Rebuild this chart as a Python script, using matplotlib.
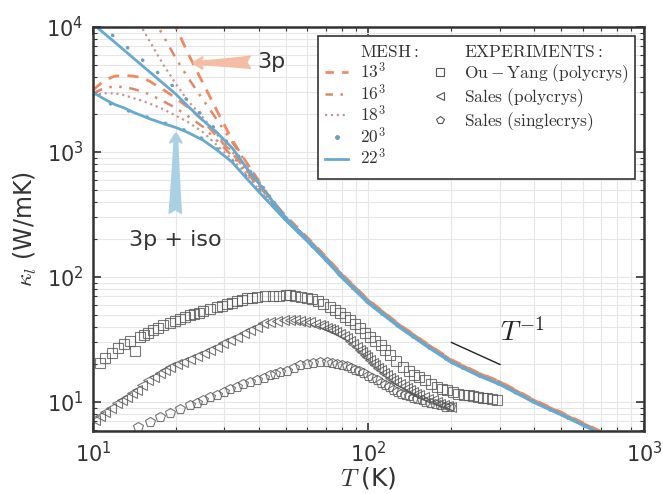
import numpy as np
import matplotlib
matplotlib.use('Agg')
import matplotlib.pyplot as plt
from matplotlib.lines import Line2D

plt.rcParams['mathtext.fontset'] = 'cm'
plt.rcParams['font.family'] = ['DejaVu Sans']

# ---- calculated kappa_l (W/mK) for each q-mesh, 3p and 3p+iso ----
T_tail = [60, 70, 80, 100, 130, 160, 200, 250, 300, 400, 500, 700]

T13_3p = [19.5, 20, 22, 25, 28, 32, 36, 40, 45, 50] + T_tail
k13_3p = [11500, 10000, 6300, 3600, 2200, 1250, 830, 580, 400, 310,
          207, 146, 106, 65.5, 41.5, 30.2, 21.8, 17.2, 14.6, 10.4, 8.3, 5.8]
T13_iso = [10, 11, 12, 13, 14, 15, 16, 18, 20, 22, 25, 28, 32, 36, 40, 45, 50] + T_tail
k13_iso = [3130, 3750, 4050, 4100, 4050, 3950, 3700, 3150, 2700, 2300, 1800, 1350,
           980, 720, 540, 390, 295,
           204, 144, 105, 65, 41.2, 30, 21.6, 17.1, 14.5, 10.3, 8.2, 5.75]

T16_3p = [16.3, 17, 18, 20, 22, 25, 28, 32, 36, 40, 45, 50] + T_tail
k16_3p = [12500, 10500, 8500, 5600, 4000, 2650, 1850, 1200, 820, 590, 410, 300,
          203, 143, 104, 64.2, 40.8, 29.6, 21.3, 16.8, 14.3, 10.2, 8.1, 5.7]
T16_iso = [10, 11, 12, 13, 14, 15, 16, 18, 20, 22, 25, 28, 32, 36, 40, 45, 50] + T_tail
k16_iso = [2950, 3250, 3350, 3300, 3200, 3050, 2900, 2550, 2250, 1950, 1600, 1250,
           930, 700, 520, 385, 290,
           198, 140, 102, 63.5, 40.5, 29.4, 21.2, 16.7, 14.2, 10.1, 8.05, 5.65]

T18_3p = [14.3, 15, 16, 17, 18, 20, 22, 25, 28, 32, 36, 40, 45, 50] + T_tail
k18_3p = [11500, 10000, 7800, 6200, 5000, 3500, 2600, 1900, 1400, 1000, 740, 560, 400, 300,
          201, 141, 103, 63.5, 40.4, 29.3, 21.1, 16.6, 14.1, 10.05, 8.0, 5.62]
T18_iso = [10, 11, 12, 13, 14, 15, 16, 18, 20, 22, 25, 28, 32, 36, 40, 45, 50] + T_tail
k18_iso = [2850, 2950, 2950, 2850, 2700, 2580, 2450, 2200, 1950, 1750, 1450, 1150,
           870, 670, 500, 375, 285,
           196, 138, 101, 62.5, 40, 29, 21, 16.5, 14, 10, 8.0, 5.6]

T20_3p = [10.3, 11, 12, 13, 14, 16, 18, 20, 22, 25, 28, 32, 36, 40, 45, 50] + T_tail
k20_3p = [10500, 9700, 8300, 7200, 6200, 4950, 3950, 3200, 2600, 1950, 1500, 1080, 770, 570, 405, 300,
          200, 140, 102, 63, 40, 29, 21, 16.5, 14, 10, 8.0, 5.6]
T20_iso = [10, 11, 12, 13, 14, 16, 18, 20, 22, 25, 28, 32, 36, 40, 45, 50] + T_tail
k20_iso = [2850, 2550, 2350, 2200, 2060, 1880, 1720, 1590, 1470, 1280, 1080, 850, 640, 495, 370, 288,
           193, 136, 99, 61.5, 39.3, 28.6, 20.7, 16.3, 13.8, 9.9, 7.9, 5.55]

T22_3p = [10, 12, 14, 16, 18, 20, 22, 25, 28, 32, 36, 40, 45, 50] + T_tail
k22_3p = [10570, 7550, 5650, 4400, 3530, 2900, 2350, 1800, 1450, 1080, 750, 560, 400, 300,
          200, 140, 102, 63, 40, 29, 21, 16.5, 14, 10, 8.0, 5.6]
T22_iso = [10, 11, 12, 13, 14, 15, 16, 18, 20, 22, 25, 28, 32, 36, 40, 45, 50] + T_tail
k22_iso = [3000, 2650, 2400, 2250, 2080, 1960, 1850, 1690, 1570, 1440, 1250, 1050,
           830, 620, 480, 365, 285,
           193, 136, 99, 61.5, 39.3, 28.6, 20.7, 16.3, 13.8, 9.9, 7.9, 5.55]

# ---- experiments ----
T_ouyang = [10.6, 11.05, 11.7, 12.3, 13.0, 13.6, 14.2, 14.8, 15.3, 15.8, 16.5, 17.2, 18.0,
            19.0, 19.8, 20.7, 21.5, 22.5, 23.3, 24.2, 25.1, 26.5, 28.2, 29.4, 30.6, 32.0,
            33.3, 34.8, 36.2, 37.8, 39.4, 42.0, 45.1, 47.5,
            50, 52, 54.3, 57, 59.7, 62.5, 65.4, 68.5, 72.4, 75.5, 78.9, 82, 85.7, 89.5,
            93.2, 97, 101, 106, 111, 115, 120, 126, 133, 140, 146, 153, 160, 168, 177,
            185, 193, 202, 212, 222, 231, 240, 250, 260, 270, 281, 293]
k_ouyang = [20.5, 22.5, 24.7, 27.1, 29.0, 30.8, 25.5, 33.1, 34.4, 35.6, 37.5, 39.1, 41.0,
            42.9, 44.5, 46.1, 47.8, 49.7, 50.6, 52.0, 53.5, 55.5, 57.5, 59.0, 60.8, 62.5,
            64.3, 66.0, 67.9, 68.5, 69.2, 70.0, 70.5, 71.0,
            71.5, 71.8, 71.0, 69.8, 68.0, 66.2, 64.0, 61.0, 57.5, 54.5, 51.4, 48.3, 45.3, 42.0,
            39.1, 36.0, 33.1, 30.8, 28.6, 26.2, 23.8, 21.4, 19.2, 17.6, 16.6, 15.9, 14.9, 14.0, 13.2,
            12.8, 12.4, 12.0, 11.7, 11.5, 11.3, 11.2, 11.0, 10.8, 10.7, 10.5, 10.4]

T_sales_poly = [10.2, 10.6, 11.05, 11.6, 12.2, 12.7, 13.3, 13.8, 14.4, 15.1, 15.8, 16.6, 17.5,
                18.2, 19.0, 20.1, 21.2, 22.5, 23.8, 25.2, 26.6, 28.1, 29.7, 31.5, 33.3, 35.2,
                37.2, 39.3, 41.4, 44.0, 46.6, 49.2, 51.9, 54.0, 56.4, 59.0, 61.5, 64.0, 66.6,
                68.5, 70.5, 72.4, 74.3, 76.5, 79.0, 81.2, 83.5, 85.7, 88.0, 90.6, 93.2, 95.0,
                97.0, 99.0, 101, 104, 106, 108, 111, 114, 117, 120, 123, 126, 130, 134, 138,
                141, 145, 149, 153, 159, 165, 171, 177, 182, 188, 194, 200]
k_sales_poly = [7.2, 7.7, 8.3, 9.0, 9.8, 10.4, 11.0, 11.8, 12.5, 13.7, 15.0, 16.0, 17.1,
                18.1, 19.1, 20.0, 20.9, 22.1, 23.3, 24.7, 26.1, 27.8, 29.6, 31.3, 33.1, 35.4,
                37.7, 40.2, 42.9, 43.8, 44.5, 45.0, 45.3, 45.0, 44.5, 44.0, 43.7, 42.5, 41.3,
                40.4, 39.5, 38.6, 37.7, 36.3, 35.0, 33.7, 32.5, 31.0, 29.2, 27.6, 26.1, 25.0,
                23.8, 22.8, 21.7, 20.7, 19.8, 18.9, 18.0, 17.2, 16.5, 15.7, 15.0, 14.4, 13.9,
                13.4, 12.9, 12.5, 12.1, 11.7, 11.4, 11.0, 10.6, 10.3, 10.0, 9.7, 9.5, 9.3, 9.1]

T_sales_single = [14.6, 16.1, 17.5, 19.0, 20.7, 22.5, 23.8, 25.1, 26.6, 28.2, 29.8, 31.4,
                  33.2, 35.1, 37.2, 39.4, 41.6, 43.9, 45.8, 47.7, 50.6, 53.5, 56.4, 59.6,
                  63.0, 66.8, 70.6, 73.8, 77.0, 80.2, 83.5, 86.2, 89.0, 92.3, 95.6, 99.2,
                  103, 107, 111, 115, 119, 123, 127, 131, 136, 140, 145, 150, 156, 161, 167,
                  174, 182, 189, 197]
k_sales_single = [6.3, 6.9, 7.6, 8.2, 8.8, 9.5, 9.9, 10.4, 10.9, 11.4, 12.0, 12.7,
                  13.3, 13.9, 14.4, 15.0, 15.7, 16.4, 16.9, 17.4, 17.8, 18.8, 19.8, 20.2,
                  20.5, 20.8, 20.9, 20.7, 20.3, 19.8, 19.3, 18.8, 18.2, 17.6, 17.1, 16.3,
                  15.6, 14.9, 14.2, 13.6, 13.1, 12.5, 12.0, 11.7, 11.4, 11.1, 10.8, 10.5,
                  10.3, 10.0, 9.8, 9.6, 9.4, 9.2, 9.1]

c13 = '#ef8a62'
c16 = '#d98a6c'
c18 = '#c09a94'
c20 = '#6f9bbd'
c22 = '#67a9cf'
cexp = '#555555'

fig = plt.figure(figsize=(6.63, 4.94), dpi=100)
ax = fig.add_axes([0.1403, 0.1275, 0.8310, 0.8178])

ls16 = (0, (4, 3, 1, 3, 1, 3))
ls20 = (0, (0.1, 5.5))
for T, k in [(T13_3p, k13_3p), (T13_iso, k13_iso)]:
    ax.plot(T, k, color=c13, lw=2, ls='--', dashes=(4, 3))
for T, k in [(T16_3p, k16_3p), (T16_iso, k16_iso)]:
    ax.plot(T, k, color=c16, lw=1.8, ls=ls16)
for T, k in [(T18_3p, k18_3p), (T18_iso, k18_iso)]:
    ax.plot(T, k, color=c18, lw=1.6, ls=':')
for T, k in [(T20_3p, k20_3p), (T20_iso, k20_iso)]:
    ax.plot(T, k, color=c20, lw=2.5, ls=ls20, dash_capstyle='round')
for T, k in [(T22_3p, k22_3p), (T22_iso, k22_iso)]:
    ax.plot(T, k, color=c22, lw=2)

mk = dict(ls='none', mfc='none', mec=cexp, mew=0.8, alpha=0.8)
ax.plot(T_ouyang, k_ouyang, marker='s', ms=7, **mk)
ax.plot(T_sales_poly, k_sales_poly, marker='<', ms=7, **mk)
ax.plot(T_sales_single, k_sales_single, marker='p', ms=7, **mk)

ax.set_xscale('log')
ax.set_yscale('log')
ax.set_xlim(10, 1000)
ax.set_ylim(5.87, 1e4)

ax.grid(True, which='both', color='#e6e6e6', lw=0.8)
ax.set_axisbelow(True)
for s in ax.spines.values():
    s.set_color('#333333')
    s.set_linewidth(1.8)
ax.tick_params(which='both', direction='in', top=True, right=True, colors='#333333')
ax.tick_params(which='major', length=6, width=1.2, labelsize=15, pad=7)
ax.tick_params(which='minor', length=3, width=0.8)

ax.set_xlabel(r'$T\;$(K)', fontsize=18, color='#333333', va='center')
ax.set_ylabel(r'$\kappa_l$ (W/mK)', fontsize=17, color='#333333', va='center')
ax.xaxis.set_label_coords(0.5, -0.117)
ax.yaxis.set_label_coords(-0.123, 0.5)

# annotations
ax.annotate('3p', xy=(23.1, 5150), xytext=(39.5, 5250), fontsize=16, color='#333333',
            ha='left', va='center',
            arrowprops=dict(arrowstyle='fancy,head_length=0.45,head_width=0.55,tail_width=0.55',
                            color='#f5bda6', shrinkA=3, shrinkB=0))
ax.annotate('3p + iso', xy=(20.0, 1420), xytext=(19.85, 198), fontsize=16, color='#333333',
            ha='center', va='center',
            arrowprops=dict(arrowstyle='fancy,head_length=0.45,head_width=0.55,tail_width=0.55',
                            color='#aad0e4', shrinkA=10, shrinkB=0))
ax.plot([200, 300], [30, 20], color='#222222', lw=1)
ax.text(300, 36, r'$T^{-1}$', fontsize=20, color='#222222', ha='left', va='center')

# legend
blank = Line2D([], [], ls='none')
h = [blank,
     Line2D([], [], color=c13, lw=2, ls='--', dashes=(3, 3)),
     Line2D([], [], color=c16, lw=1.8, ls=(0, (3, 3, 1, 3, 1, 3))),
     Line2D([], [], color=c18, lw=1.6, ls=':'),
     Line2D([], [], color=c20, ls='none', marker='.', ms=5),
     Line2D([], [], color=c22, lw=2),
     blank,
     Line2D([], [], ls='none', marker='s', mfc='none', mec=cexp, ms=6, mew=0.8),
     Line2D([], [], ls='none', marker='<', mfc='none', mec=cexp, ms=6, mew=0.8),
     Line2D([], [], ls='none', marker='p', mfc='none', mec=cexp, ms=6, mew=0.8),
     blank, blank]
labels = [r'$\mathrm{MESH:}$', r'$13^3$', r'$16^3$', r'$18^3$', r'$20^3$', r'$22^3$',
          r'$\mathrm{EXPERIMENTS:}$', r'$\mathrm{Ou-Yang\ (polycrys)}$',
          r'$\mathrm{Sales\ (polycrys)}$', r'$\mathrm{Sales\ (singlecrys)}$', r'$\ $', r'$\ $']
leg = ax.legend(h, labels, ncol=2, loc='upper right', fontsize=12.5, handlelength=1.3,
                handletextpad=0.7, labelspacing=0.08, columnspacing=0.6, fancybox=False,
                framealpha=1, edgecolor='#333333', borderpad=0.4, borderaxespad=0.5)
leg.get_frame().set_linewidth(1.2)
for t in leg.get_texts():
    t.set_color('#333333')

fig.savefig('out.png', dpi=100)
